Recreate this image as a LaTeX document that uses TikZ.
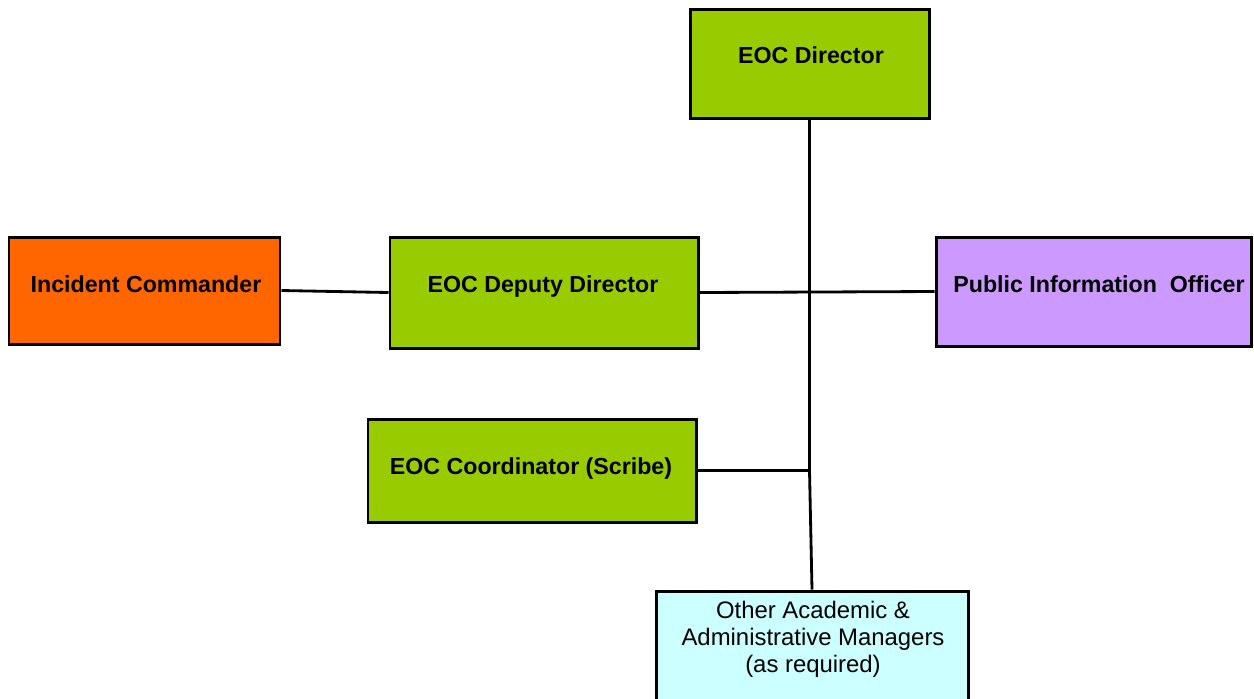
\documentclass[tikz,border=0pt]{standalone}
\usepackage{fontspec}
\setmainfont{Liberation Sans}
\usetikzlibrary{fit}
\definecolor{eocgreen}{HTML}{99CC00}
\definecolor{eocorange}{HTML}{FF6600}
\definecolor{eocpurple}{HTML}{CC99FF}
\definecolor{eoccyan}{HTML}{CCFFFF}
\tikzset{
  box/.style={draw=black, line width=1.7pt, inner sep=0pt},
  lbl/.style={font=\fontsize{13.2}{15.3}\selectfont\bfseries, inner sep=0pt, anchor=base},
  rlbl/.style={font=\fontsize{13.6}{15.3}\selectfont, inner sep=0pt, anchor=base},
  conn/.style={draw=black, line width=1.6pt}
}
\begin{document}
\begin{tikzpicture}[x=0.02cm,y=-0.02cm]
\useasboundingbox (0,0) rectangle (1254,698);
\clip (0,0) rectangle (1254,698);
% boxes
\node[box, fill=eocgreen, fit={(690,9) (929,118)}] (dir) {};
\node[box, fill=eocorange, fit={(9,237) (280,344)}] (ic) {};
\node[box, fill=eocgreen, fit={(390,237) (698,348)}] (dep) {};
\node[box, fill=eocpurple, fit={(936,237) (1251,346)}] (pio) {};
\node[box, fill=eocgreen, fit={(368,419) (696,522)}] (coord) {};
\node[box, fill=eoccyan, fit={(656,591) (968,720)}] (oth) {};
% labels
\node[lbl] (tdir) at (811,63) {EOC Director};
\node[lbl] (tic) at (146,292) {Incident Commander};
\node[lbl] (tdep) at (543,292) {EOC Deputy Director};
\node[lbl] (tpio) at (1099,292) {Public Information\ \ Officer};
\node[lbl] (tcoord) at (531,474) {EOC Coordinator (Scribe)};
\node[rlbl] (to1) at (813,618) {Other Academic \&};
\node[rlbl] (to2) at (813,645) {Administrative Managers};
\node[rlbl] (to3) at (813,672) {(as required)};
% connectors
\coordinate (j) at (dir.south |- coord.east);
\draw[conn] (dir.south) -- (j);
\draw[conn] (coord.east) -- (j);
\draw[conn] (j) -- (oth.north);
\draw[conn] (dep.east) -- (pio.west);
\draw[conn] (ic.east) -- (dep.west);
\end{tikzpicture}
\end{document}
